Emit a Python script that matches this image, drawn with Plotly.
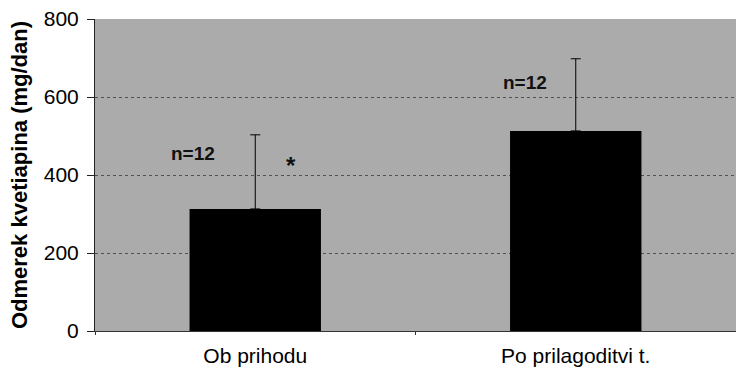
import plotly.graph_objects as go

categories = ["Ob prihodu", "Po prilagoditvi t."]
means = [313, 513]
sd_upper = [190, 185]
n_labels = ["n=12", "n=12"]
y_ticks = [0, 200, 400, 600, 800]

fig = go.Figure()
fig.add_trace(go.Bar(
    x=categories, y=means,
    marker=dict(color="black", line=dict(width=0)),
    width=0.41,
    error_y=dict(type="data", array=sd_upper, arrayminus=[0, 0], symmetric=False,
                 color="black", thickness=1, width=5),
))

fig.add_annotation(x=0, y=456, text=f"<b>{n_labels[0]}</b>", showarrow=False,
                   xshift=-62, font=dict(size=19, color="#111"))
fig.add_annotation(x=1, y=638, text=f"<b>{n_labels[1]}</b>", showarrow=False,
                   xshift=-51, font=dict(size=19, color="#111"))
fig.add_annotation(x=0, y=424, text="<b>*</b>", showarrow=False,
                   xshift=36, font=dict(size=24, color="#111"))

fig.update_layout(
    width=736, height=374,
    margin=dict(l=95, r=0, t=19, b=43),
    paper_bgcolor="white",
    plot_bgcolor="#ababab",
    showlegend=False,
    bargap=0.59,
    font=dict(family="Liberation Sans, Arial, sans-serif", color="black"),
    xaxis=dict(
        range=[-0.5, 1.5],
        showline=True, linecolor="#333", linewidth=1,
        ticks="outside", tickson="boundaries", ticklen=3, tickcolor="#333",
        tickfont=dict(size=21), showgrid=False, ticklabelstandoff=6,
    ),
    yaxis=dict(
        range=[0, 800], tickvals=y_ticks,
        showline=True, linecolor="#222", linewidth=1,
        ticks="outside", ticklen=7, tickcolor="#222",
        tickfont=dict(size=21), ticklabelstandoff=4,
        showgrid=True, gridcolor="#505050", griddash="dot", gridwidth=1,
        zeroline=False,
        title=dict(text="<b>Odmerek kvetiapina (mg/dan)</b>", font=dict(size=22), standoff=10),
    ),
)
fig.write_html("out.html")
